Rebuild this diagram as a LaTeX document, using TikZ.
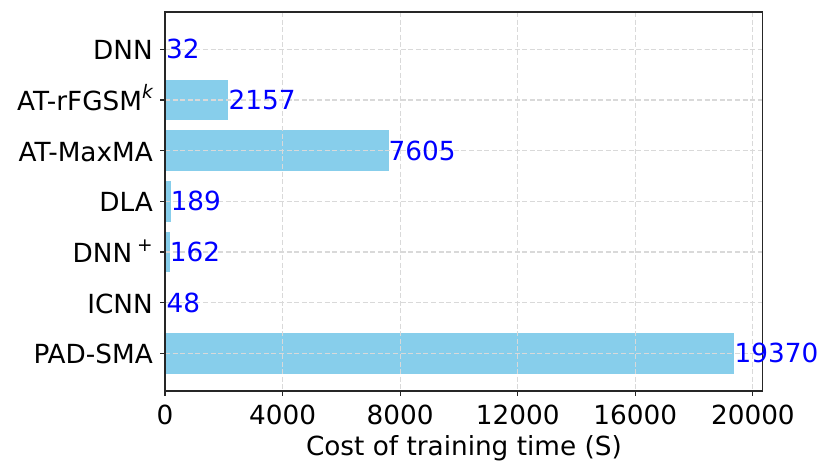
\documentclass[tikz,border=0pt]{standalone}
\usepackage{fontspec}
\setmainfont{DejaVu Sans}
\definecolor{barcol}{HTML}{87CEEB}
\definecolor{gridcol}{HTML}{D9D9D9}
\definecolor{spinecol}{HTML}{262626}
\begin{document}
\begin{tikzpicture}[x=1pt,y=-1pt,
  bar/.style={fill=barcol,draw=none},
  gridline/.style={draw=gridcol,line width=1.1pt,dash pattern=on 5pt off 2.6pt},
  spine/.style={draw=spinecol,line width=1.1pt},
  tickmark/.style={draw=spinecol,line width=1.1pt},
  lab/.style={font=\fontsize{26.3}{27}\selectfont,inner sep=0pt},
  val/.style={lab,text=blue,anchor=base west},
  ylab/.style={lab,anchor=base east},
  xlab/.style={lab,anchor=base}]
\useasboundingbox (0,0) rectangle (830,473);
% bars
\foreach \y/\e in {49.3/165.94, 99.97/228.4, 150.64/388.5, 201.3/170.56, 251.98/169.76, 302.64/166.41, 353.3/734.4}{
  \fill[bar] (165,\y-20.27) rectangle (\e,\y+20.27);
}
% grid
\foreach \x in {165,282.6,400.2,517.7,635.3,752.9}{
  \draw[gridline] (\x,12) -- (\x,391);
}
\foreach \y in {49.3,99.97,150.64,201.3,251.98,302.64,353.3}{
  \draw[gridline] (165,\y) -- (762.8,\y);
}
% spines
\draw[spine] (165,12) rectangle (762.8,391);
% ticks
\foreach \y in {49.3,99.97,150.64,201.3,251.98,302.64,353.3}{
  \draw[tickmark] (165,\y) -- (160.1,\y);
}
\foreach \x in {165,282.6,400.2,517.7,635.3,752.9}{
  \draw[tickmark] (\x,391) -- (\x,395.9);
}
% y labels
\node[ylab] (l0) at (153,59.8) {DNN};
\node[ylab] (l1) at (153,110.4) {AT-rFGSM\raisebox{0.45em}{\fontsize{18.6}{19}\selectfont\itshape k}};
\node[ylab] (l2) at (153,161.1) {AT-MaxMA};
\node[ylab] (l3) at (153,211.8) {DLA};
\node[ylab] (l4) at (153,262.4) {DNN\hspace{5pt}\raisebox{0.4em}{\fontsize{18.6}{19}\selectfont +}};
\node[ylab] (l5) at (153,313.1) {ICNN};
\node[ylab] (l6) at (153,363.7) {PAD-SMA};
% value labels
\node[val] (v0) at (165.94,58.8) {32};
\node[val] (v1) at (228.4,109.5) {2157};
\node[val] (v2) at (388.5,160.1) {7605};
\node[val] (v3) at (170.56,210.8) {189};
\node[val] (v4) at (169.76,261.5) {162};
\node[val] (v5) at (166.41,312.1) {48};
\node[val] (v6) at (734.4,362.8) {19370};
% x tick labels
\node[xlab] (t0) at (165,424.5) {0};
\node[xlab] (t1) at (282.6,424.5) {4000};
\node[xlab] (t2) at (400.2,424.5) {8000};
\node[xlab] (t3) at (517.7,424.5) {12000};
\node[xlab] (t4) at (635.3,424.5) {16000};
\node[xlab] (t5) at (752.9,424.5) {20000};
% x axis label
\node[xlab] (xl) at (463.9,455.2) {Cost of training time (S)};
\end{tikzpicture}
\end{document}
